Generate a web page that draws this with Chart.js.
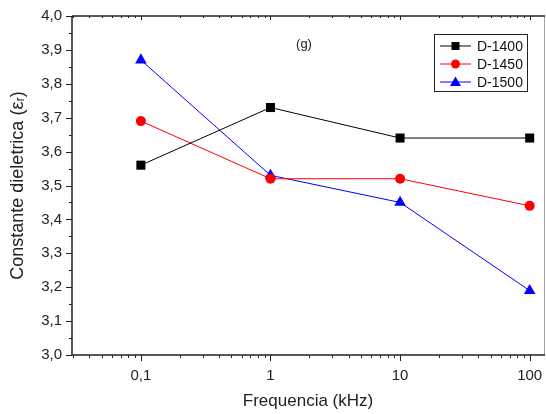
<!DOCTYPE html>
<html>
<head>
<meta charset="utf-8">
<script src="https://cdn.jsdelivr.net/npm/chart.js@4.4.0/dist/chart.umd.min.js"></script>
<style>
  html, body { margin: 0; padding: 0; background: #fff; }
</style>
</head>
<body>
<canvas id="graficoDieletrico" width="546" height="414"></canvas>
<script>
// Frequências medidas (kHz) e constante dielétrica de cada amostra
const frequencias = [0.1, 1, 10, 100];
const d1400 = [3.56, 3.73, 3.64, 3.64];
const d1450 = [3.69, 3.52, 3.52, 3.44];
const d1500 = [3.87, 3.53, 3.45, 3.19];

const ticksX = [0.1, 1, 10, 100];
const ticksY = [3.0, 3.1, 3.2, 3.3, 3.4, 3.5, 3.6, 3.7, 3.8, 3.9, 4.0];

const fonte = "'Liberation Sans', Arial, sans-serif";

const virgula = v => v.toString().replace('.', ',');
const pontos = vals => frequencias.map((f, i) => ({ x: f, y: vals[i] }));

// Moldura, marcas dos eixos, rótulo (g) e legenda
const moldura = {
  id: 'moldura',
  afterDraw(chart) {
    const ctx = chart.ctx;
    const { left, right, top, bottom } = chart.chartArea;
    const sx = chart.scales.x, sy = chart.scales.y;
    ctx.save();

    ctx.strokeStyle = '#a0a0a0';
    ctx.lineWidth = 1;
    ctx.beginPath();
    ctx.moveTo(right + 0.5, top); ctx.lineTo(right + 0.5, bottom);
    ctx.stroke();

    ctx.strokeStyle = '#222';
    ctx.lineWidth = 1.5;
    ctx.beginPath();
    ctx.moveTo(left, top); ctx.lineTo(right + 1, top);
    ctx.moveTo(left, top); ctx.lineTo(left, bottom);
    ctx.moveTo(left, bottom); ctx.lineTo(right + 1, bottom);
    ctx.stroke();

    // marcas do eixo x (log)
    ctx.lineWidth = 1;
    ctx.beginPath();
    for (let dec = 0.01; dec <= 100; dec *= 10) {
      for (let m = 1; m <= 9; m++) {
        const v = dec * m;
        if (v < sx.min || v > sx.max) continue;
        const px = Math.round(sx.getPixelForValue(v)) + 0.5;
        const len = m === 1 ? 6 : 3;
        ctx.moveTo(px, bottom); ctx.lineTo(px, bottom + len);
        ctx.moveTo(px, top); ctx.lineTo(px, top + (m === 1 ? 4 : 2));
      }
    }
    // marcas do eixo y
    for (let k = 0; k <= 20; k++) {
      const v = 3 + k * 0.05;
      const py = Math.round(sy.getPixelForValue(v)) + 0.5;
      const len = k % 2 === 0 ? 6 : 3;
      ctx.moveTo(left - len, py); ctx.lineTo(left, py);
    }
    ctx.stroke();

    ctx.fillStyle = '#222';
    ctx.font = '13px ' + fonte;
    ctx.textAlign = 'center';
    ctx.textBaseline = 'middle';
    ctx.fillText('(g)', 304, 44);

    // legenda
    const bx = 434.5, by = 34.5, bw = 93, bh = 57;
    ctx.fillStyle = '#fff';
    ctx.fillRect(bx, by, bw, bh);
    ctx.strokeStyle = '#222';
    ctx.lineWidth = 1;
    ctx.strokeRect(bx, by, bw, bh);
    ctx.font = '14px ' + fonte;
    ctx.textAlign = 'left';
    chart.data.datasets.forEach((ds, i) => {
      const y = 46 + i * 18;
      ctx.strokeStyle = ds.borderColor;
      ctx.beginPath();
      ctx.moveTo(440, y); ctx.lineTo(471, y);
      ctx.stroke();
      ctx.fillStyle = ds.pointBackgroundColor;
      const cx = 455.5;
      ctx.beginPath();
      if (ds.pointStyle === 'rect') {
        ctx.rect(cx - 4, y - 4, 8, 8);
      } else if (ds.pointStyle === 'circle') {
        ctx.arc(cx, y, 4.5, 0, Math.PI * 2);
      } else {
        ctx.moveTo(cx, y - 5.5); ctx.lineTo(cx + 5.5, y + 4); ctx.lineTo(cx - 5.5, y + 4);
        ctx.closePath();
      }
      ctx.fill();
      ctx.fillStyle = '#111';
      ctx.fillText(ds.label, 477, y + 1);
    });
    ctx.restore();
  }
};

const ctxDiel = document.getElementById('graficoDieletrico').getContext('2d');
new Chart(ctxDiel, {
  type: 'line',
  data: {
    datasets: [
      {
        label: 'D-1400', data: pontos(d1400),
        borderColor: '#000', pointBackgroundColor: '#000', pointBorderColor: '#000',
        pointStyle: 'rect', pointRadius: 6.4
      },
      {
        label: 'D-1450', data: pontos(d1450),
        borderColor: '#ff0000', pointBackgroundColor: '#ff0000', pointBorderColor: '#ff0000',
        pointStyle: 'circle', pointRadius: 5
      },
      {
        label: 'D-1500', data: pontos(d1500),
        borderColor: '#0000ff', pointBackgroundColor: '#0000ff', pointBorderColor: '#0000ff',
        pointStyle: 'triangle', pointRadius: 6.7
      }
    ]
  },
  options: {
    responsive: false,
    animation: false,
    clip: false,
    elements: { line: { borderWidth: 1, tension: 0 }, point: { borderWidth: 0 } },
    layout: { autoPadding: false, padding: { top: 16, right: 2, left: 0, bottom: 0 } },
    plugins: { legend: { display: false }, tooltip: { enabled: false } },
    scales: {
      x: {
        type: 'logarithmic',
        min: 0.0294,
        max: 129,
        afterBuildTicks: s => { s.ticks = ticksX.map(v => ({ value: v })); },
        afterFit: s => { s.height = 59; s.paddingLeft = 0; s.paddingRight = 0; },
        grid: { display: false, drawTicks: false },
        border: { display: false },
        ticks: {
          padding: 12,
          color: '#222',
          font: { family: fonte, size: 15 },
          maxRotation: 0,
          callback: v => virgula(v)
        },
        title: {
          display: true,
          text: 'Frequencia (kHz)',
          color: '#222',
          font: { family: fonte, size: 17 },
          padding: { top: 0, bottom: 2 }
        }
      },
      y: {
        min: 3.0,
        max: 4.0,
        afterBuildTicks: s => { s.ticks = ticksY.map(v => ({ value: v })); },
        afterFit: s => { s.width = 72; s.paddingTop = 0; s.paddingBottom = 0; },
        grid: { display: false, drawTicks: false },
        border: { display: false },
        ticks: {
          padding: 10,
          color: '#222',
          font: { family: fonte, size: 15 },
          callback: v => virgula(v.toFixed(1))
        },
        title: {
          display: true,
          text: 'Constante dieletrica (\u03B5\u1D63)',
          color: '#222',
          font: { family: fonte, size: 18 },
          padding: { top: 7, bottom: 0 }
        }
      }
    }
  },
  plugins: [moldura]
});
</script>
</body>
</html>
